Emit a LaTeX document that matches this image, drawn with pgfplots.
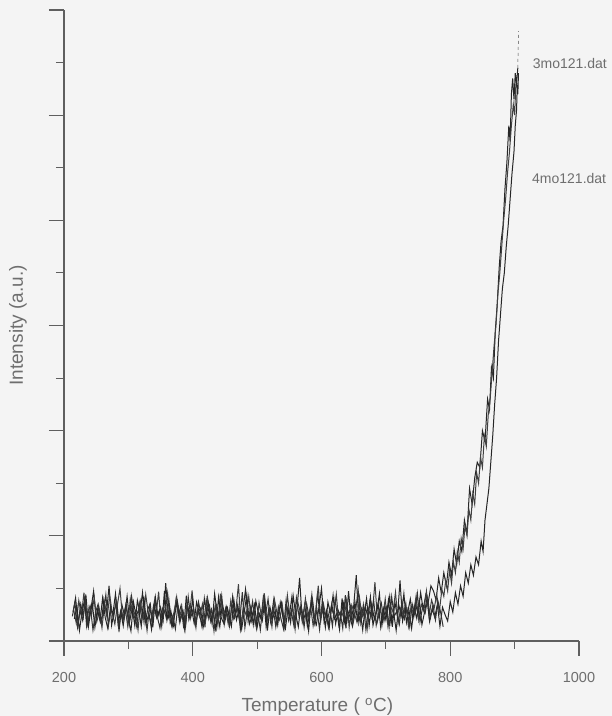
\documentclass[border=0pt]{standalone}
\usepackage{fontspec}
\setmainfont{Liberation Sans}
\usepackage{pgfplots}
\pgfplotsset{compat=1.18}
\definecolor{bg}{RGB}{244,244,244}
\definecolor{txt}{RGB}{110,110,110}
\definecolor{axln}{RGB}{95,95,95}
\begin{document}
\begin{tikzpicture}
\useasboundingbox (-64pt,-75pt) rectangle (548pt,641pt);
\fill[bg] (-64pt,-75pt) rectangle (548pt,641pt);
\begin{axis}[
    scale only axis,
    width=515pt, height=631pt,
    at={(0,0)}, anchor=south west,
    xmin=200, xmax=1000, ymin=0, ymax=12,
    axis lines=left,
    axis line style={-, draw=axln, line width=1.1pt},
    every tick/.style={draw=axln, line width=1.1pt},
    tick align=outside,
    major tick length=15pt, minor tick length=8pt,
    xtick={200,400,...,1000},
    minor x tick num=1,
    ytick={0,2,...,12},
    yticklabels={},
    minor y tick num=1,
    /pgf/number format/assume math mode=true,
    /pgf/number format/1000 sep={},
    xticklabel style={font=\fontsize{14.5}{16}\selectfont, text=txt, yshift=-13pt},
    xlabel={Temperature ( $^{\mathrm{o}}$C)},
    ylabel={Intensity (a.u.)},
    xlabel style={font=\fontsize{19}{21}\selectfont, text=txt, at={(axis description cs:0.492,-0.104)}, anchor=center},
    ylabel style={font=\fontsize{19}{21}\selectfont, text=txt, at={(axis description cs:-0.0893,0.5)}, anchor=center},
    every axis plot/.append style={line width=1pt},
    clip=false,
]
% 3mo121.dat
\addplot[black!85] coordinates {
(214,.55)(218,.82)(222,.31)(226,.70)(230,.45)(234,.88)(238,.28)(242,.62)(246,.95)(250,.40)
(254,.66)(258,.35)(262,.79)(266,.52)(270,1.05)(274,.30)(278,.58)(282,.74)(286,.25)(290,.69)
(294,.48)(298,.85)(302,.37)(306,.63)(310,.29)(314,.77)(318,.54)(322,.92)(326,.33)(330,.60)
(334,.71)(338,.26)(342,.83)(346,.47)(350,.64)(354,.39)(358,1.10)(362,.44)(366,.57)(370,.30)
(374,.78)(378,.50)(382,.68)(386,.24)(390,.86)(394,.41)(398,.62)(402,.35)(406,.74)(410,.55)
(414,.29)(418,.81)(422,.46)(426,.67)(430,.33)(434,.90)(438,.52)(442,.27)(446,.72)(450,.44)
(454,.63)(458,.36)(462,.85)(466,.49)(470,.70)(474,.22)(478,.59)(482,.98)(486,.38)(490,.65)
(494,.31)(498,.76)(502,.53)(506,.42)(510,.88)(514,.27)(518,.61)(522,.45)(526,.80)(530,.34)
(534,.57)(538,.73)(542,.25)(546,.66)(550,.48)(554,.84)(558,.30)(562,.62)(566,1.20)(570,.40)
(574,.69)(578,.28)(582,.55)(586,.79)(590,.36)(594,.92)(598,.43)(602,.60)(606,.26)(610,.74)
(614,.51)(618,.87)(622,.33)(626,.58)(630,.45)(634,.71)(638,.24)(642,.95)(646,.39)(650,.66)
(654,1.25)(658,.35)(662,.62)(666,.48)(670,.81)(674,.29)(678,.70)(682,.42)(686,.56)(690,.90)
(694,.31)(698,.67)(702,.52)(706,.85)(710,.27)(714,.74)(718,.46)(722,1.15)(726,.38)(730,.63)
(734,.55)(738,.80)(742,.42)(746,.72)(750,.50)(754,.92)(758,.60)(762,.88)(766,.75)(770,1.05)
(774,.95)(778,.78)(782,1.2)(786,.92)(790,1.3)(794,1.05)(798,1.5)(802,1.25)(806,1.75)(810,1.45)
(814,1.9)(818,1.7)(822,2.3)(826,2.05)(830,2.9)(834,2.6)(838,3.1)(842,3.4)(846,3.3)(850,4.0)
(854,3.8)(858,4.6)(861,4.4)(864,5.2)(867,5.0)(870,5.9)(873,6.4)(876,7.1)(879,7.6)(882,7.9)
(885,8.6)(888,9.1)(891,9.8)(893,9.5)(895,10.4)(897,10.7)(899,10.3)(901,10.8)(903,10.6)(905,10.9)
};
\addplot[black!70, line width=0.5pt, dashed] coordinates {(905,10.9)(906,11.6)};
% second trace of 3mo121.dat
\addplot[black!75] coordinates {
(215,.60)(219,.34)(223,.77)(227,.48)(231,.92)(235,.29)(239,.66)(243,.51)(247,.83)(251,.37)
(255,.58)(259,.25)(263,.71)(267,.44)(271,.87)(275,.53)(279,.32)(283,.69)(287,1.00)(291,.41)
(295,.63)(299,.28)(303,.80)(307,.46)(311,.57)(315,.21)(319,.74)(323,.39)(327,.88)(331,.52)
(335,.35)(339,.67)(343,.49)(347,.94)(351,.27)(355,.61)(359,.43)(363,.78)(367,.31)(371,.56)
(375,.84)(379,.40)(383,.65)(387,.23)(391,.72)(395,.50)(399,.96)(403,.36)(407,.59)(411,.45)
(415,.70)(419,.26)(423,.82)(427,.54)(431,.38)(435,.68)(439,.30)(443,.90)(447,.47)(451,.62)
(455,.33)(459,.76)(463,.42)(467,.58)(471,1.08)(475,.28)(479,.64)(483,.49)(487,.85)(491,.37)
(495,.56)(499,.24)(503,.73)(507,.45)(511,.91)(515,.35)(519,.60)(523,.27)(527,.79)(531,.52)
(535,.40)(539,.69)(543,.31)(547,.87)(551,.47)(555,.63)(559,.22)(563,.75)(567,.55)(571,.34)
(575,.81)(579,.43)(583,.66)(587,.29)(591,.58)(595,1.05)(599,.39)(603,.71)(607,.46)(611,.25)
(615,.64)(619,.50)(623,.89)(627,.32)(631,.57)(635,.42)(639,.77)(643,.26)(647,.68)(651,.53)
(655,.36)(659,.83)(663,.45)(667,.61)(671,.23)(675,.74)(679,.51)(683,1.12)(687,.38)(691,.59)
(695,.44)(699,.80)(703,.30)(707,.67)(711,.55)(715,.93)(719,.34)(723,.62)(727,.48)(731,.72)
(735,.28)(739,.65)(743,.52)(747,.86)(751,.40)(755,.70)(759,.57)(763,.95)(767,.47)(771,.78)
(775,.62)(779,.88)(783,.55)(787,.98)
(790,.85)(793,1.15)(796,.95)(799,1.35)(802,1.1)(805,1.5)(808,1.3)(811,1.7)(814,1.5)(817,1.95)
(820,1.75)(823,2.2)(826,2.0)(829,2.5)(832,2.3)(835,2.8)(838,2.6)(841,3.2)(844,3.0)(847,3.5)
(850,3.3)(853,3.9)(856,3.7)(859,4.3)(862,4.6)(865,5.1)(868,5.6)(871,6.0)(874,6.6)(877,7.0)
(880,7.5)(883,8.0)(886,8.4)(889,8.9)(892,9.3)(895,9.8)(898,10.2)(900,10.0)(902,10.6)
};
% 4mo121.dat
\addplot[black!85] coordinates {
(216,.42)(220,.66)(224,.20)(228,.55)(232,.78)(236,.30)(240,.49)(244,.71)(248,.26)(252,.60)
(256,.38)(260,.82)(264,.45)(268,.24)(272,.63)(276,.52)(280,.90)(284,.33)(288,.57)(292,.29)
(296,.68)(300,.41)(304,.19)(308,.74)(312,.47)(316,.60)(320,.28)(324,.85)(328,.36)(332,.53)
(336,.22)(340,.70)(344,.44)(348,.58)(352,.31)(356,.95)(360,.40)(364,.65)(368,.27)(372,.50)
(376,.75)(380,.35)(384,.56)(388,.21)(392,.67)(396,.43)(400,.80)(404,.30)(408,.54)(412,.62)
(416,.25)(420,.48)(424,.72)(428,.37)(432,.59)(436,.18)(440,.83)(444,.45)(448,.34)(452,.66)
(456,.51)(460,.28)(464,.77)(468,.40)(472,.61)(476,.23)(480,.55)(484,.88)(488,.32)(492,.47)
(496,.69)(500,.26)(504,.52)(508,.38)(512,.79)(516,.20)(520,.64)(524,.43)(528,.57)(532,.30)
(536,.73)(540,.46)(544,.24)(548,.62)(552,.35)(556,.86)(560,.50)(564,.27)(568,.68)(572,.41)
(576,.55)(580,.19)(584,.76)(588,.44)(592,.31)(596,.63)(600,1.00)(604,.37)(608,.58)(612,.25)
(616,.70)(620,.42)(624,.53)(628,.22)(632,.81)(636,.36)(640,.60)(644,.47)(648,.28)(652,.74)
(656,.39)(660,.57)(664,.21)(668,.66)(672,.45)(676,.84)(680,.30)(684,.52)(688,.71)(692,.26)
(696,.62)(700,.40)(704,.78)(708,.33)(712,.55)(716,.20)(720,.69)(724,.48)(728,.90)(732,.35)
(736,.58)(740,.24)(744,.65)(748,.43)(752,.76)(756,.31)(760,.54)(764,.82)(768,.37)(772,.60)
(776,.45)(780,.70)(784,.28)(788,.64)(792,.50)(796,.38)
(800,.75)(804,.55)(808,.92)(812,.70)(816,1.05)(820,.85)(824,1.3)(828,1.1)(832,1.45)(836,1.25)
(840,1.6)(844,1.45)(848,1.9)(851,1.7)(854,2.3)(857,2.6)(860,2.9)(863,3.4)(866,3.9)(869,4.5)
(872,5.0)(875,5.7)(878,6.2)(881,6.7)(884,7.0)(887,7.5)(890,7.9)(893,8.4)(896,8.9)(899,9.3)
(901,9.8)(903,10.1)(904,10.5)(902,10.7)(905,10.4)(906,10.8)
};
% second trace of 4mo121.dat (baseline only)
\addplot[black!80] coordinates {
(213,.47)(217,.73)(221,.26)(225,.58)(229,.39)(233,.81)(237,.33)(241,.64)(245,.21)(249,.55)
(253,.70)(257,.36)(261,.52)(265,.88)(269,.29)(273,.61)(277,.44)(281,.76)(285,.24)(289,.57)
(293,.40)(297,.67)(301,.31)(305,.85)(309,.49)(313,.27)(317,.72)(321,.43)(325,.59)(329,.20)
(333,.66)(337,.38)(341,.79)(345,.46)(349,.25)(353,.62)(357,.53)(361,.91)(365,.34)(369,.48)
(373,.23)(377,.69)(381,.41)(385,.57)(389,.30)(393,.84)(397,.45)(401,.63)(405,.26)(409,.74)
(413,.50)(417,.35)(421,.78)(425,.42)(429,.60)(433,.19)(437,.67)(441,.47)(445,.86)(449,.31)
(453,.56)(457,.28)(461,.71)(465,.44)(469,.62)(473,.37)(477,.93)(481,.25)(485,.58)(489,.46)
(493,.75)(497,.32)(501,.54)(505,.21)(509,.68)(513,.49)(517,.80)(521,.36)(525,.61)(529,.27)
(533,.65)(537,.43)(541,.23)(545,.77)(549,.39)(553,.57)(557,.30)(561,.82)(565,.48)(569,.63)
(573,.26)(577,.70)(581,.45)(585,.88)(589,.34)(593,.59)(597,.22)(601,.73)(605,.51)(609,.37)
(613,.62)(617,.28)(621,.79)(625,.46)(629,.55)(633,.24)(637,.87)(641,.40)(645,.66)(649,.33)
(653,.58)(657,.97)(661,.35)(665,.69)(669,.21)(673,.61)(677,.44)(681,.78)(685,.30)(689,.54)
(693,.72)(697,.38)(701,.63)(705,.25)(709,.84)(713,.47)(717,.57)(721,.32)(725,.76)(729,.42)
(733,.60)(737,.27)(741,.70)(745,.49)(749,.90)(753,.36)(757,.64)(761,.53)(765,.81)(769,.45)
(773,.68)(777,.40)(781,.75)(785,.55)(789,.27)
};
\node[anchor=west, text=txt, font=\fontsize{14}{16}\selectfont, inner sep=0pt] at (axis cs:928,10.99) {3mo121.dat};
\node[anchor=west, text=txt, font=\fontsize{14}{16}\selectfont, inner sep=0pt] at (axis cs:927,8.80) {4mo121.dat};
\end{axis}
\end{tikzpicture}
\end{document}
